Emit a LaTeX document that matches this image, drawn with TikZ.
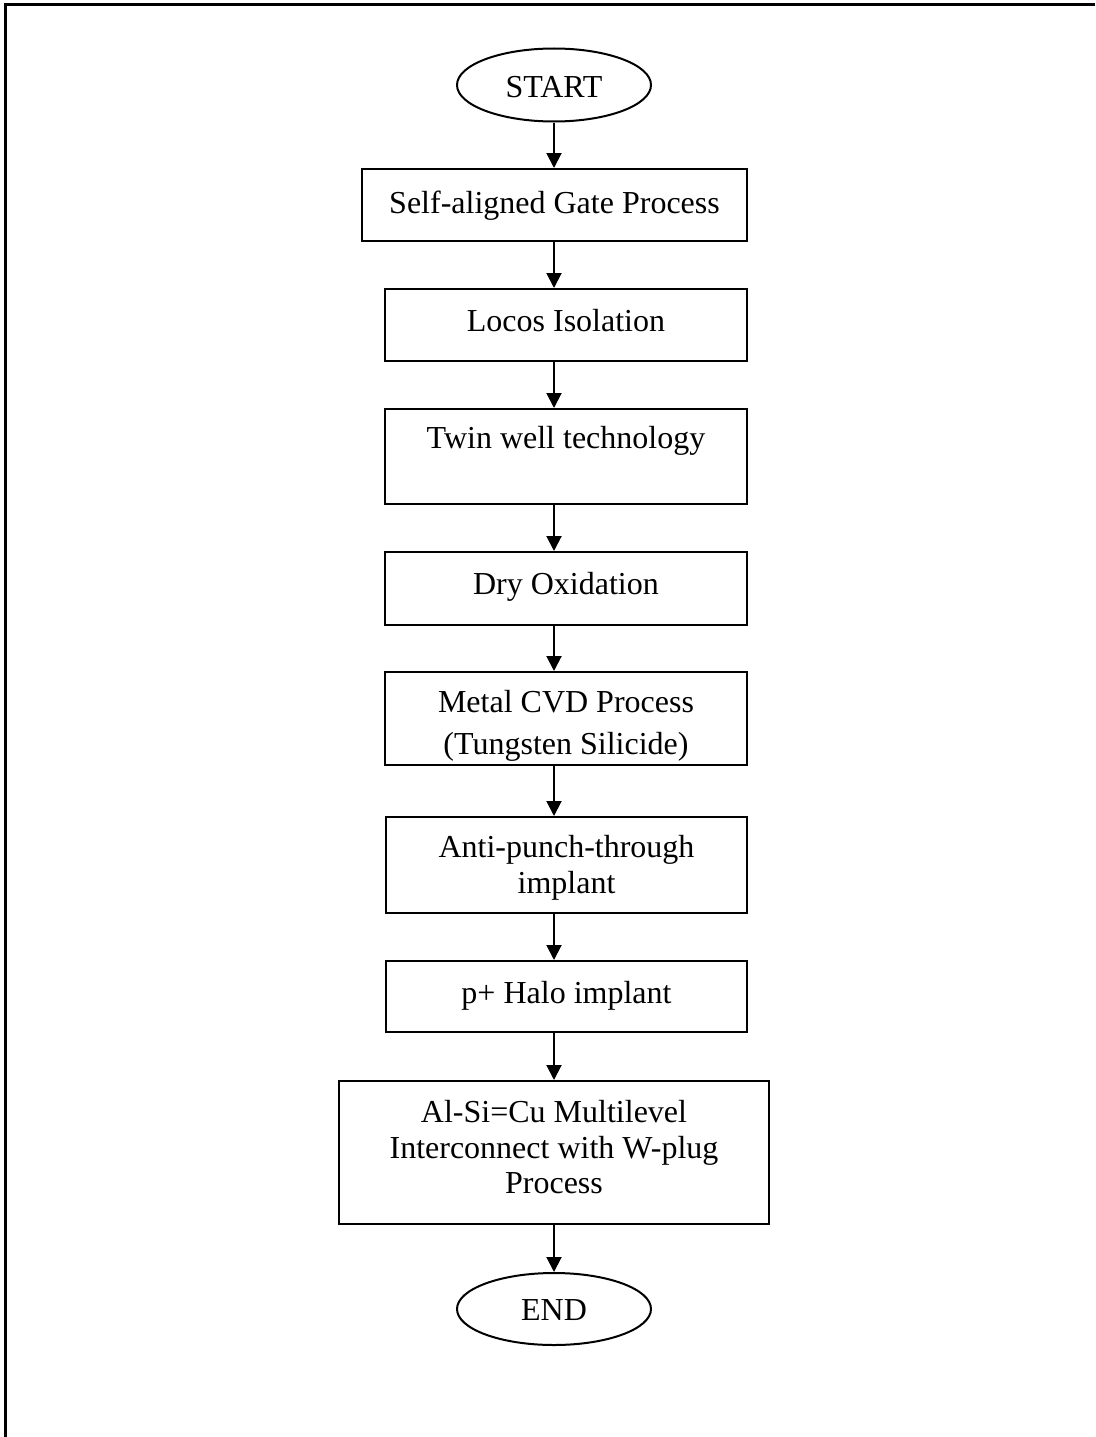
\documentclass[tikz,border=0pt]{standalone}
\usepackage{fontspec}
\setmainfont{Liberation Serif}
\usetikzlibrary{arrows.meta,shapes.geometric}
\begin{document}
\begin{tikzpicture}[x=1pt,y=-1pt,
  stepbox/.style={draw=black,line width=2pt,rectangle,inner sep=0pt},
  term/.style={draw=black,line width=2pt,ellipse,inner sep=0pt},
  txt/.style={anchor=base,inner sep=0pt,font=\fontsize{32}{36}\selectfont},
  flow/.style={line width=2pt,-{Triangle[width=15pt,length=15pt]}}]
\useasboundingbox (0,0) rectangle (1095,1437);
\fill[white] (0,0) rectangle (1095,1437);
% frame (top and left)
\draw[line width=3pt] (5.5,1437) -- (5.5,4.5) -- (1095,4.5);
% shapes
\node[term,minimum width=194pt,minimum height=73pt] (start) at (554,85) {};
\node[stepbox,minimum width=385pt,minimum height=72pt] (b1) at (554.5,205) {};
\node[stepbox,minimum width=362pt,minimum height=72pt] (b2) at (566,325) {};
\node[stepbox,minimum width=362pt,minimum height=95pt] (b3) at (566,456.5) {};
\node[stepbox,minimum width=362pt,minimum height=73pt] (b4) at (566,588.5) {};
\node[stepbox,minimum width=362pt,minimum height=93pt] (b5) at (566,718.5) {};
\node[stepbox,minimum width=361pt,minimum height=96pt] (b6) at (566.5,865) {};
\node[stepbox,minimum width=361pt,minimum height=71pt] (b7) at (566.5,996.5) {};
\node[stepbox,minimum width=430pt,minimum height=143pt] (b8) at (554,1152.5) {};
\node[term,minimum width=194pt,minimum height=72pt] (end) at (554,1309) {};
% texts
\node[txt] (tstart) at (554,97) {START};
\node[txt] (t1) at (554.5,213) {Self-aligned Gate Process};
\node[txt] (t2) at (566,331) {Locos Isolation};
\node[txt] (t3) at (566,448) {Twin well technology};
\node[txt] (t4) at (566,594) {Dry Oxidation};
\node[txt] (t5a) at (566,712) {Metal CVD Process};
\node[txt] (t5b) at (566,754) {(Tungsten Silicide)};
\node[txt] (t6a) at (566.5,857) {Anti-punch-through};
\node[txt] (t6b) at (566.5,893) {implant};
\node[txt] (t7) at (566.5,1003) {p+ Halo implant};
\node[txt] (t8a) at (554,1122) {Al-Si=Cu Multilevel};
\node[txt] (t8b) at (554,1158) {Interconnect with W-plug};
\node[txt] (t8c) at (554,1193) {Process};
\node[txt] (tend) at (554,1320) {END};
% connectors
\draw[flow] (start.south) -- (start.south |- b1.north);
\draw[flow] (start.south |- b1.south) -- (start.south |- b2.north);
\draw[flow] (start.south |- b2.south) -- (start.south |- b3.north);
\draw[flow] (start.south |- b3.south) -- (start.south |- b4.north);
\draw[flow] (start.south |- b4.south) -- (start.south |- b5.north);
\draw[flow] (start.south |- b5.south) -- (start.south |- b6.north);
\draw[flow] (start.south |- b6.south) -- (start.south |- b7.north);
\draw[flow] (start.south |- b7.south) -- (b8.north);
\draw[flow] (b8.south) -- (end.north);
\end{tikzpicture}
\end{document}
